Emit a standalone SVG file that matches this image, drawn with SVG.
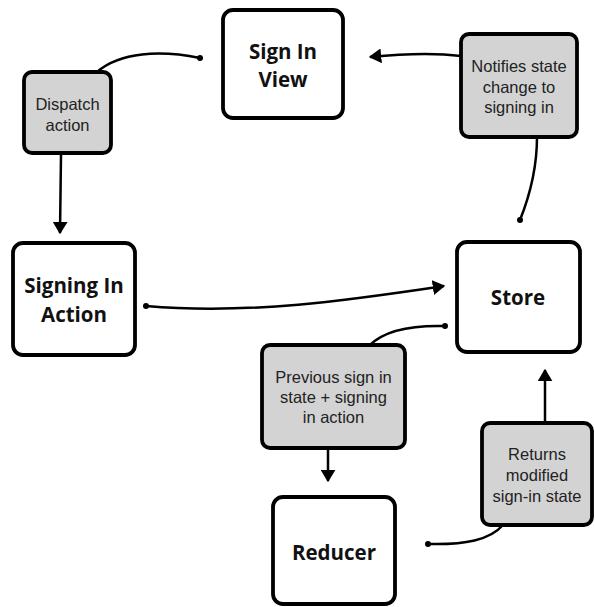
<svg xmlns="http://www.w3.org/2000/svg" width="595" height="607" viewBox="0 0 595 607">
<style>
.n{fill:#fff;stroke:#000;stroke-width:3.8}
.g{fill:#d3d3d3;stroke:#000;stroke-width:3.8}
.t{font-family:"Open Sans",sans-serif;font-weight:bold;font-size:20.5px;text-anchor:middle;fill:#111}
.s{font-family:"Liberation Sans",Arial,sans-serif;font-size:16.5px;text-anchor:middle;fill:#222}
.c{fill:none;stroke:#000;stroke-width:2.5}
</style>
<defs>
<marker id="a" markerWidth="6" markerHeight="6" refX="4.5" refY="3" orient="auto" markerUnits="strokeWidth"><path d="M0,0 L5,3 L0,6 Z" fill="#000"/></marker>
<marker id="d" markerWidth="3" markerHeight="3" refX="1.5" refY="1.5" markerUnits="strokeWidth"><circle cx="1.5" cy="1.5" r="1.2" fill="#000"/></marker>
</defs>
<g id="connectors">
<path class="c" d="M200,58 C160,50 120,52 97,72" marker-start="url(#d)"/>
<path class="c" d="M61,155 L60,233" marker-end="url(#a)"/>
<path class="c" d="M146,306 C250,315 350,300 444,286" marker-start="url(#d)" marker-end="url(#a)"/>
<path class="c" d="M520,220 C530,195 537,165 537,137" marker-start="url(#d)"/>
<path class="c" d="M461,56 C430,52 400,54 370,57" marker-end="url(#a)"/>
<path class="c" d="M445,326 C410,325 385,330 370,345" marker-start="url(#d)"/>
<path class="c" d="M328,448 L328,481" marker-end="url(#a)"/>
<path class="c" d="M428,544 C465,545 490,540 503,525" marker-start="url(#d)"/>
<path class="c" d="M545,423 L545,370" marker-end="url(#a)"/>
</g>
<g id="signInView"><rect class="n" x="223" y="10" width="120" height="108" rx="10"/><text class="t" x="283" y="59">Sign In</text><text class="t" x="283" y="87">View</text></g>
<g id="dispatch"><rect class="g" x="24" y="72" width="87" height="81" rx="8"/><text class="s" x="67.5" y="110">Dispatch</text><text class="s" x="67.5" y="131">action</text></g>
<g id="signingInAction"><rect class="n" x="13" y="243" width="122" height="112" rx="10"/><text class="t" x="74" y="293">Signing In</text><text class="t" x="74" y="322">Action</text></g>
<g id="store"><rect class="n" x="457" y="242" width="123" height="110" rx="10"/><text class="t" x="518" y="305">Store</text></g>
<g id="notifies"><rect class="g" x="461" y="34" width="116" height="103" rx="8"/><text class="s" x="519" y="72">Notifies state</text><text class="s" x="519" y="93">change to</text><text class="s" x="519" y="113">signing in</text></g>
<g id="previous"><rect class="g" x="262" y="345" width="143" height="103" rx="8"/><text class="s" x="333.5" y="383">Previous sign in</text><text class="s" x="333.5" y="403">state + signing</text><text class="s" x="333.5" y="423">in action</text></g>
<g id="reducer"><rect class="n" x="273" y="497" width="122" height="107" rx="10"/><text class="t" x="334" y="560">Reducer</text></g>
<g id="returns"><rect class="g" x="482" y="423" width="110" height="102" rx="8"/><text class="s" x="537" y="460">Returns</text><text class="s" x="537" y="481">modified</text><text class="s" x="537" y="502">sign-in state</text></g>
</svg>
